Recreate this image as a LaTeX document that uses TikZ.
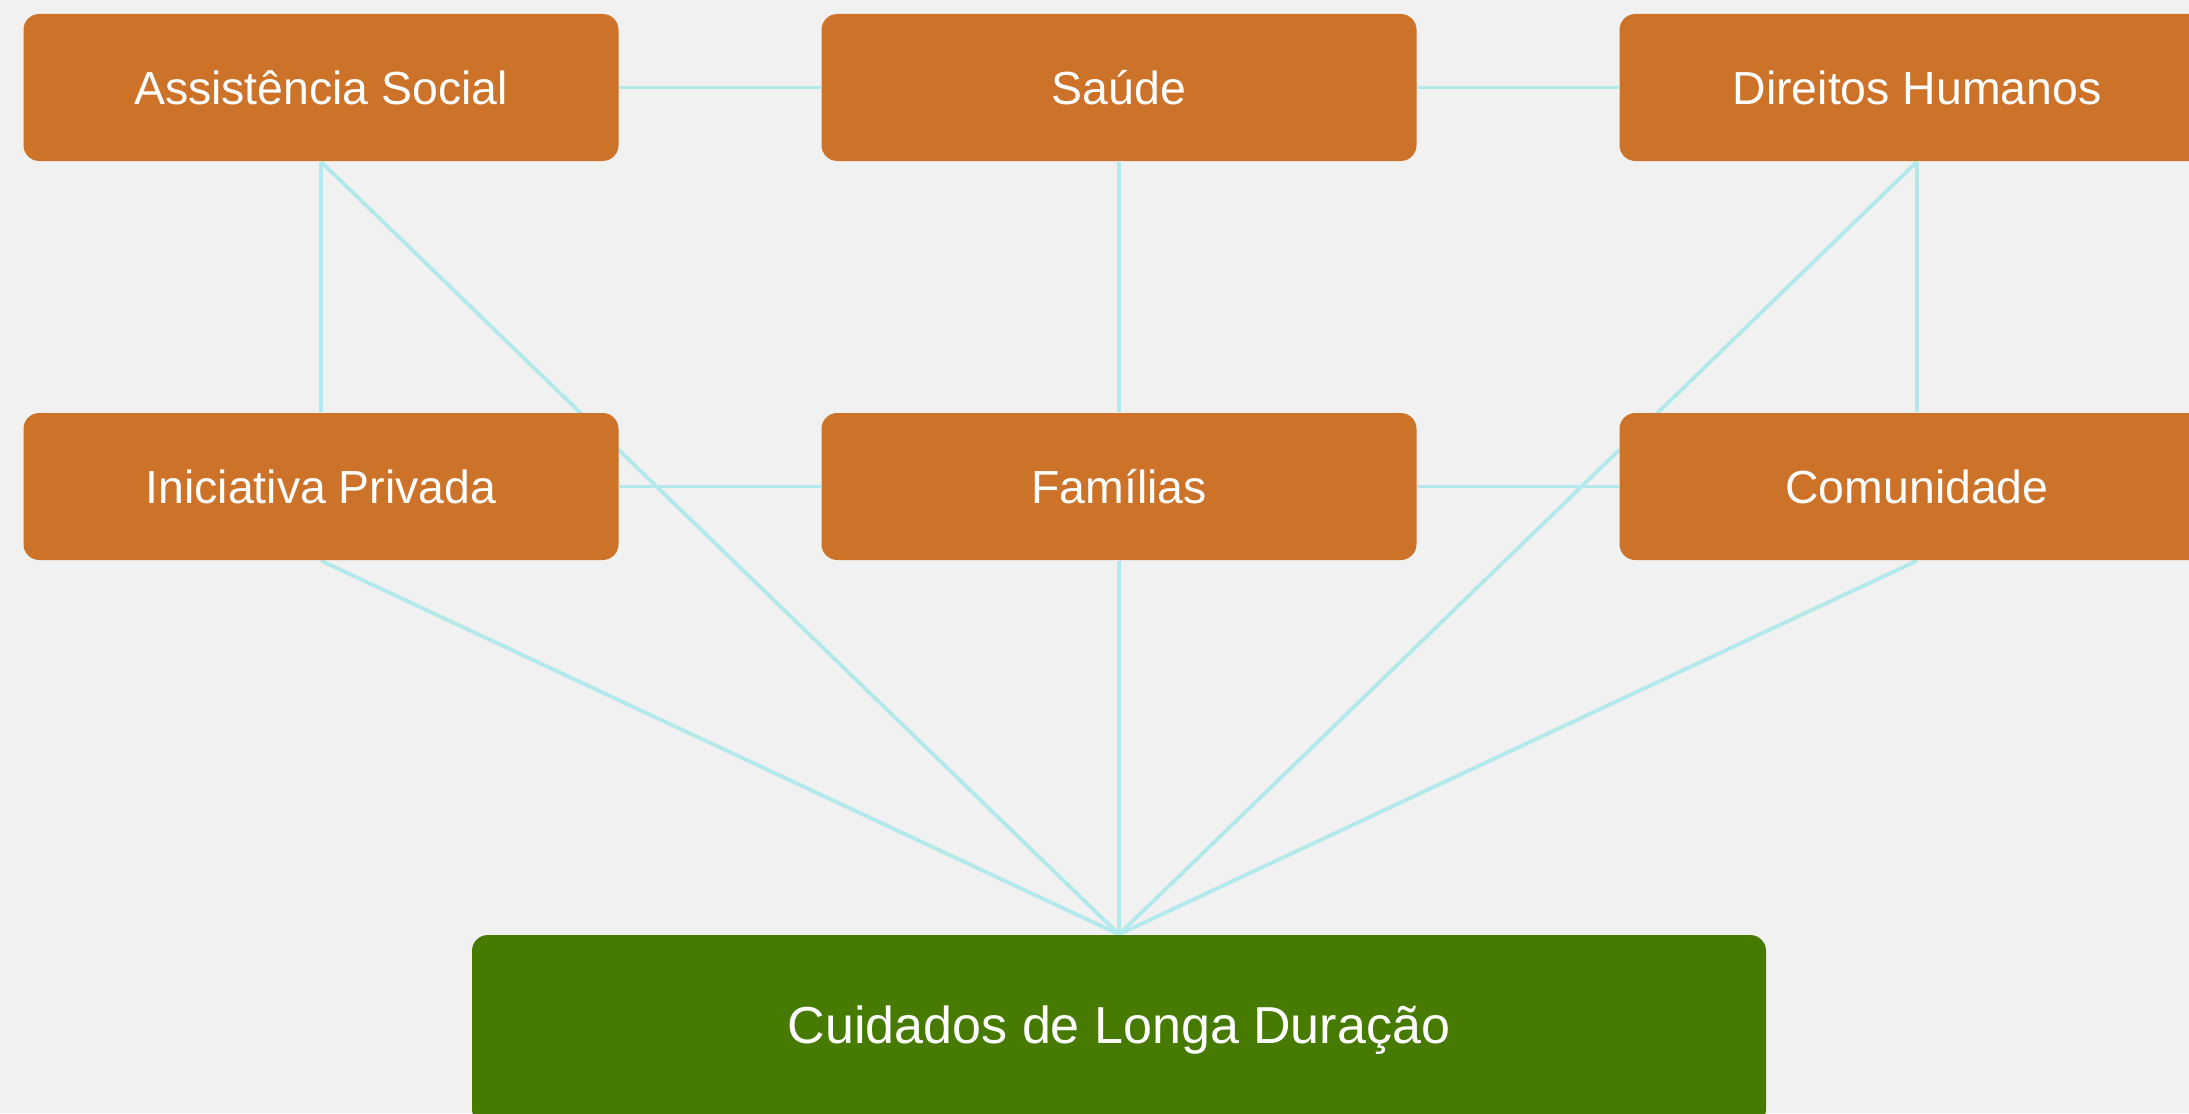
\documentclass[tikz,border=0pt]{standalone}
\usepackage{fontspec}
\setmainfont{Liberation Sans}
\usetikzlibrary{positioning,backgrounds}

\definecolor{boxorange}{HTML}{CD7229}
\definecolor{boxgreen}{HTML}{467A00}
\definecolor{linkcyan}{HTML}{B3E9EB}
\definecolor{paper}{HTML}{F1F1F1}

\tikzset{
	area/.style={fill=boxorange, text=white, rounded corners=4.5pt, inner sep=0pt,
		minimum width=5.95cm, minimum height=1.47cm,
		font=\fontsize{13.2}{16}\selectfont},
	goal/.style={area, fill=boxgreen, minimum width=12.94cm, minimum height=1.9cm,
		font=\fontsize{14.8}{18}\selectfont},
	link/.style={draw=linkcyan, line width=1.1pt}
}

\begin{document}
\begin{tikzpicture}

	\useasboundingbox (0,0) rectangle (21.89,11.13);

	% node definitions
	\node[area]  (assist_soc) at  (3.21,10.255) {Assistência Social};
	\node[area]      (health) at (11.19,10.255) {Saúde};
	\node[area]      (rights) at (19.17,10.255) {Direitos Humanos};
	\node[area]   (priv_init) at  (3.21,6.265)  {Iniciativa Privada};
	\node[area]    (families) at (11.19,6.265)  {Famílias};
	\node[area]   (community) at (19.17,6.265)  {Comunidade};
	\node[goal]   (long_care) at (11.19,0.83)   {Cuidados de Longa Duração};

	\begin{pgfonlayer}{background}
	% paper
	\fill[paper] (0,0) rectangle (21.89,11.13);

	% lines
	\draw[link] (assist_soc) -- (health);
	\draw[link]     (health) -- (rights);
	\draw[link]  (priv_init) -- (families);
	\draw[link]   (families) -- (community);
	\draw[link] (assist_soc) -- (priv_init);
	\draw[link]     (health) -- (families);
	\draw[link]     (rights) -- (community);
	\draw[link] (assist_soc.south) -- (long_care.north);
	\draw[link]     (rights.south) -- (long_care.north);
	\draw[link]  (priv_init.south) -- (long_care.north);
	\draw[link]  (community.south) -- (long_care.north);
	\draw[link]           (families) -- (long_care);
	\end{pgfonlayer}

\end{tikzpicture}
\end{document}
